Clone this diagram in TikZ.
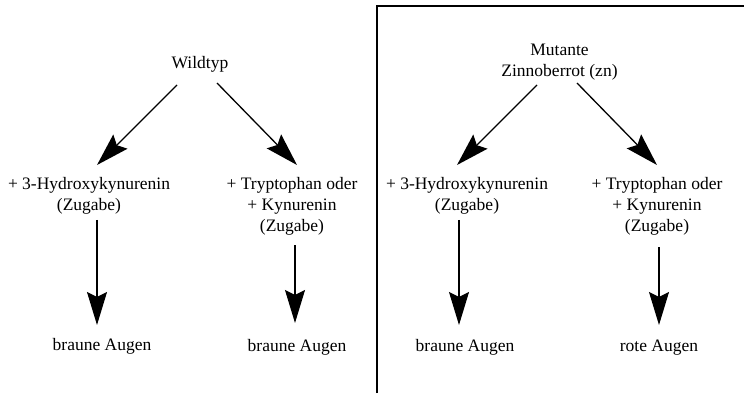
\documentclass[tikz,border=0pt]{standalone}
\usepackage{fontspec}
\setmainfont{Liberation Serif}
\usepackage{tikz}
\usetikzlibrary{arrows.meta}
\usetikzlibrary{calc}
\tikzset{
	labelnode/.style={inner sep=0pt, align=center, anchor=base, font=\fontsize{17.5}{21}\selectfont},
	bigarrow/.style={line width=1.3pt, -{Stealth[length=33pt,width=20pt,inset=5pt]}}
}

\begin{document}
\begin{tikzpicture}[x=1pt,y=-1pt]
			\useasboundingbox (0,0) rectangle (744,398);
			% Rahmen der Mutante
			\draw[line width=1.6pt] (377,393) -- (377,6) -- (745,6);
			
			% Wildtyp
			\node[labelnode] (wt) at (200,69) {Wildtyp};
			\node[labelnode] (hkw) at (89,211) {+ 3-Hydroxykynurenin\\(Zugabe)};
			\node[labelnode] (tkw) at (292,232) {+ Tryptophan oder\\+ Kynurenin\\(Zugabe)};
			\node[labelnode] (bw1) at (102,350) {braune Augen};
			\node[labelnode] (bw2) at (297,351) {braune Augen};
			
			\draw[bigarrow] ($(wt.base)+(-23,16)$) -- ($(hkw.base)+(8,-46)$);
			\draw[bigarrow] ($(wt.base)+(17,14)$) -- ($(tkw.base)+(5,-67)$);
			\draw[bigarrow] ($(hkw.base)+(8,9)$) -- ($(bw1.base)+(-5,-25)$);
			\draw[bigarrow] ($(tkw.base)+(3,13)$) -- ($(bw2.base)+(-2,-28)$);
			
			% Mutante
			\node[labelnode] (mz) at (559.5,77) {Mutante\\Zinnoberrot (zn)};
			\node[labelnode] (hkm) at (467,211) {+ 3-Hydroxykynurenin\\(Zugabe)};
			\node[labelnode] (tkm) at (657,232) {+ Tryptophan oder\\+ Kynurenin\\(Zugabe)};
			\node[labelnode] (bm1) at (465,351) {braune Augen};
			\node[labelnode] (bm2) at (659,351) {rote Augen};
			
			\draw[bigarrow] ($(mz.base)+(-22.5,8)$) -- ($(hkm.base)+(-10,-46)$);
			\draw[bigarrow] ($(mz.base)+(17.5,6)$) -- ($(tkm.base)+(0,-67)$);
			\draw[bigarrow] ($(hkm.base)+(-8,9)$) -- ($(bm1.base)+(-6,-26)$);
			\draw[bigarrow] ($(tkm.base)+(2,15)$) -- ($(bm2.base)+(0,-26)$);
\end{tikzpicture}
\end{document}
